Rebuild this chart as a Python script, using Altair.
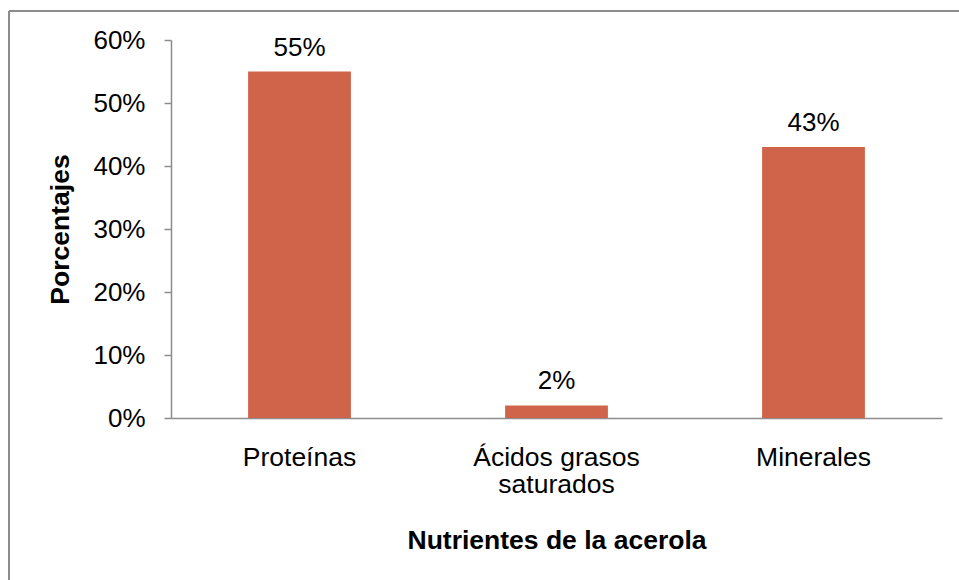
import altair as alt
import pandas as pd

# Nutrient shares of the acerola fruit
nutrientes = ["Proteínas", "Ácidos grasos saturados", "Minerales"]
porcentajes = [0.55, 0.02, 0.43]
y_ticks = [0, 0.1, 0.2, 0.3, 0.4, 0.5, 0.6]

df = pd.DataFrame({"nutriente": nutrientes, "valor": porcentajes})

FONT = "Liberation Sans"
BAR_COLOR = "#D0644A"
AXIS_GREY = "#8C8C8C"

x_enc = alt.X(
    "nutriente:N",
    sort=nutrientes,
    scale=alt.Scale(paddingInner=0.6, paddingOuter=0.3),
    axis=alt.Axis(
        title="Nutrientes de la acerola",
        labelAngle=0,
        ticks=False,
        labelPadding=26,
        labelFontSize=26.5,
        labelLineHeight=27,
        labelFont=FONT,
        labelColor="#000000",
        labelExpr="datum.label == 'Ácidos grasos saturados' ? ['Ácidos grasos', 'saturados'] : datum.label",
        domainColor=AXIS_GREY,
        domainWidth=1.5,
        titleFont=FONT,
        titleFontSize=26.5,
        titleFontWeight="bold",
        titleColor="#000000",
        titleBaseline="alphabetic",
        titleY=130,
    ),
)

y_enc = alt.Y(
    "valor:Q",
    scale=alt.Scale(domain=[0, 0.6], nice=False),
    axis=alt.Axis(
        title="Porcentajes",
        values=y_ticks,
        format=".0%",
        grid=False,
        tickSize=7,
        tickColor=AXIS_GREY,
        tickWidth=1.5,
        domainColor=AXIS_GREY,
        domainWidth=1.5,
        labelPadding=19,
        labelFontSize=26,
        labelFont=FONT,
        labelColor="#000000",
        titleFont=FONT,
        titleFontSize=26.5,
        titleFontWeight="bold",
        titleColor="#000000",
        titleAngle=-90,
        titleBaseline="alphabetic",
        titleAlign="center",
        titleX=-103,
        titleY=189,
    ),
)

base = alt.Chart(df)

bars = base.mark_bar(color=BAR_COLOR).encode(x=x_enc, y=y_enc)

labels = base.mark_text(
    dy=-16, baseline="alphabetic", fontSize=26, font=FONT, color="#000000"
).encode(
    x=alt.X("nutriente:N", sort=nutrientes),
    y="valor:Q",
    text=alt.Text("valor:Q", format=".0%"),
)

# Outer frame of the chart area (top and left edges)
frame_top = base.mark_rule(color=AXIS_GREY, strokeWidth=2).encode(
    x=alt.value(-162), x2=alt.value(800), y=alt.value(-29)
)
frame_left = base.mark_rule(color=AXIS_GREY, strokeWidth=2).encode(
    x=alt.value(-162), y=alt.value(-29), y2=alt.value(560)
)

chart = (
    alt.layer(bars, labels, frame_top, frame_left)
    .properties(
        width=771,
        height=378,
        autosize=alt.AutoSizeParams(type="none"),
        padding={"left": 171, "top": 40, "right": 17, "bottom": 162},
        background="white",
    )
    .configure_view(stroke=None)
)

chart.save("out.html", embed_options={"renderer": "svg", "actions": False})
